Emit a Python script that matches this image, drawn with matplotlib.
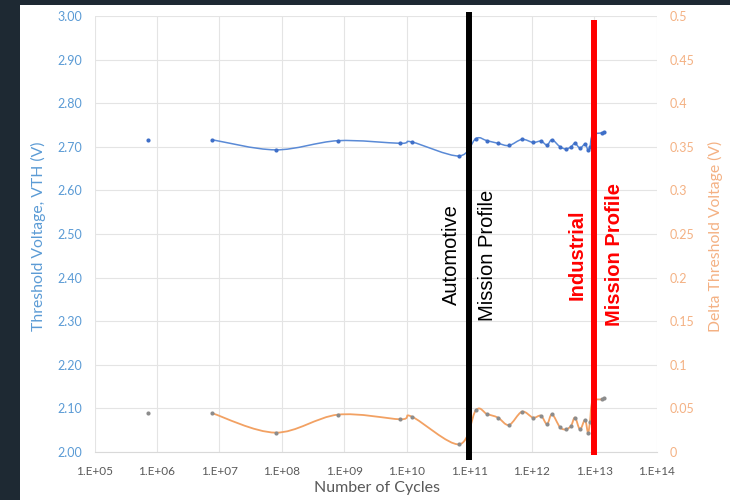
import numpy as np
import matplotlib
matplotlib.use('Agg')
import matplotlib.pyplot as plt
from matplotlib.path import Path
from matplotlib.patches import PathPatch, Rectangle
import matplotlib.transforms as mtransforms


# Number of cycles
cycles = [7.1e5, 7.7e6, 7.9e7, 7.8e8, 7.8e9, 1.2e10, 6.8e10,
          1.27e11, 1.9e11, 2.86e11, 4.29e11, 6.9e11, 1.04e12, 1.39e12, 1.74e12,
          2.09e12, 2.81e12, 3.5e12, 4.21e12, 4.88e12, 5.86e12, 7.05e12, 7.87e12,
          8.47e12, 9.29e12, 1.32e13, 1.42e13]

# Threshold voltage (left axis)
vth = [2.716, 2.716, 2.693, 2.714, 2.708, 2.711, 2.679,
       2.719, 2.714, 2.708, 2.703, 2.717, 2.710, 2.713, 2.704,
       2.716, 2.700, 2.695, 2.700, 2.708, 2.697, 2.706, 2.693,
       2.700, 2.727, 2.732, 2.734]

# Delta threshold voltage (right axis)
delta_vth = [0.0444, 0.0444, 0.0222, 0.0428, 0.0375, 0.0405, 0.0088,
             0.0480, 0.0436, 0.0394, 0.0310, 0.0462, 0.0394, 0.0416, 0.0320,
             0.0432, 0.0283, 0.0260, 0.0300, 0.0394, 0.0260, 0.0367, 0.0222,
             0.0348, 0.0577, 0.0604, 0.0615]

x_ticks = [1e5, 1e6, 1e7, 1e8, 1e9, 1e10, 1e11, 1e12, 1e13, 1e14]
x_tick_labels = ['1.E+05', '1.E+06', '1.E+07', '1.E+08', '1.E+09',
                 '1.E+10', '1.E+11', '1.E+12', '1.E+13', '1.E+14']
left_ticks = [2.0, 2.1, 2.2, 2.3, 2.4, 2.5, 2.6, 2.7, 2.8, 2.9, 3.0]
right_ticks = [0, 0.05, 0.1, 0.15, 0.2, 0.25, 0.3, 0.35, 0.4, 0.45, 0.5]
right_tick_labels = ['0', '0.05', '0.1', '0.15', '0.2', '0.25', '0.3',
                     '0.35', '0.4', '0.45', '0.5']

automotive_limit = 1e11
industrial_limit = 1e13

BLUE_TXT = '#5B9BD5'
ORANGE_TXT = '#F4B183'
GRAY_TXT = '#595959'
DARK_BG = '#1E2933'


def smooth_path(xs, ys):
    # excel style smoothed line: cubic bezier through the points (log x space)
    lx = np.log10(xs)
    ys = np.asarray(ys, dtype=float)
    n = len(lx)
    verts = [(xs[0], ys[0])]
    codes = [Path.MOVETO]
    for i in range(n - 1):
        p0 = max(i - 1, 0)
        p3 = min(i + 2, n - 1)
        c1x = lx[i] + (lx[i + 1] - lx[p0]) / 6
        c1y = ys[i] + (ys[i + 1] - ys[p0]) / 6
        c2x = lx[i + 1] - (lx[p3] - lx[i]) / 6
        c2y = ys[i + 1] - (ys[p3] - ys[i]) / 6
        verts += [(10 ** c1x, c1y), (10 ** c2x, c2y), (xs[i + 1], ys[i + 1])]
        codes += [Path.CURVE4] * 3
    return Path(verts, codes)


plt.rcParams['font.family'] = ['Lato', 'DejaVu Sans']

fig = plt.figure(figsize=(7.3, 5), dpi=100, facecolor='white')
# dark frame strips at the left and top
fig.patches.append(Rectangle((0, 0), 20 / 730, 1, transform=fig.transFigure,
                             facecolor=DARK_BG, edgecolor='none'))
fig.patches.append(Rectangle((0, 1 - 5 / 500), 1, 5 / 500, transform=fig.transFigure,
                             facecolor=DARK_BG, edgecolor='none'))

ax = fig.add_axes([94.5 / 730, 1 - 452 / 500, 562.5 / 730, 436 / 500])
ax.set_facecolor('none')
ax.set_xscale('log')
ax.set_xlim(1e5, 1e14)
ax.set_ylim(2.0, 3.0)
ax.set_xticks(x_ticks)
ax.set_xticklabels(x_tick_labels)
ax.minorticks_off()
ax.set_yticks(left_ticks)
ax.set_yticklabels(['%.2f' % t for t in left_ticks])
ax.grid(True, color='#E4E4E4', lw=0.8)
ax.set_axisbelow(True)
for s in ax.spines.values():
    s.set_visible(False)
ax.spines['bottom'].set_visible(True)
ax.spines['bottom'].set_color('#D9D9D9')
ax.tick_params(axis='x', length=0, pad=10, labelsize=8.5, labelcolor=GRAY_TXT)
ax.tick_params(axis='y', length=0, pad=9, labelsize=9, labelcolor=BLUE_TXT)
ax.set_xlabel('Number of Cycles', fontsize=11.5, color=GRAY_TXT)
ax.xaxis.set_label_coords(0.502, -0.066)
ax.set_ylabel('Threshold Voltage, VTH (V)', fontsize=11.3, color=BLUE_TXT)
ax.yaxis.set_label_coords(-0.086, 0.495)

# blue series
ax.add_patch(PathPatch(smooth_path(cycles[1:], vth[1:]), fill=False,
                       edgecolor='#5A8AD6', lw=1.1, transform=ax.transData))
ax.plot(cycles, vth, 'o', ms=3, color='#3F6FC8', mec='none')

ax2 = ax.twinx()
ax2.set_ylim(0, 0.5)
ax2.set_yticks(right_ticks)
ax2.set_yticklabels(right_tick_labels)
for s in ax2.spines.values():
    s.set_visible(False)
ax2.tick_params(axis='y', length=0, pad=9, labelsize=9, labelcolor=ORANGE_TXT)
ax2.set_ylabel('Delta Threshold Voltage (V)', fontsize=11.3, color=ORANGE_TXT)
ax2.yaxis.set_label_coords(1.091, 0.495)

# orange series
ax2.add_patch(PathPatch(smooth_path(cycles[1:], delta_vth[1:]), fill=False,
                        edgecolor='#F2A163', lw=1.3, transform=ax2.transData))
ax2.plot(cycles, delta_vth, 'o', ms=3, color='#8C8C8C', mec='none')

# mission profile limits
trans = mtransforms.blended_transform_factory(ax2.transData, ax2.transAxes)
ax2.plot([automotive_limit, automotive_limit], [-0.018, 1.009], color='black',
         lw=4.3, transform=trans, clip_on=False, solid_capstyle='butt', zorder=5)
ax2.plot([industrial_limit, industrial_limit], [-0.007, 0.991], color='#FF0000',
         lw=4.3, transform=trans, clip_on=False, solid_capstyle='butt', zorder=5)

txt = dict(rotation=90, ha='center', va='center', fontsize=14.5,
           family=['Liberation Sans', 'DejaVu Sans'], transform=ax2.transAxes)
ax2.text(0.634, 0.452, 'Automotive', color='black', **txt)
ax2.text(0.698, 0.452, 'Mission Profile', color='black', **txt)
ax2.text(0.858, 0.452, 'Industrial', color='#FF0000', fontweight='bold', **txt)
ax2.text(0.925, 0.452, 'Mission Profile', color='#FF0000', fontweight='bold', **txt)

plt.savefig('out.png', dpi=100, facecolor=fig.get_facecolor())
